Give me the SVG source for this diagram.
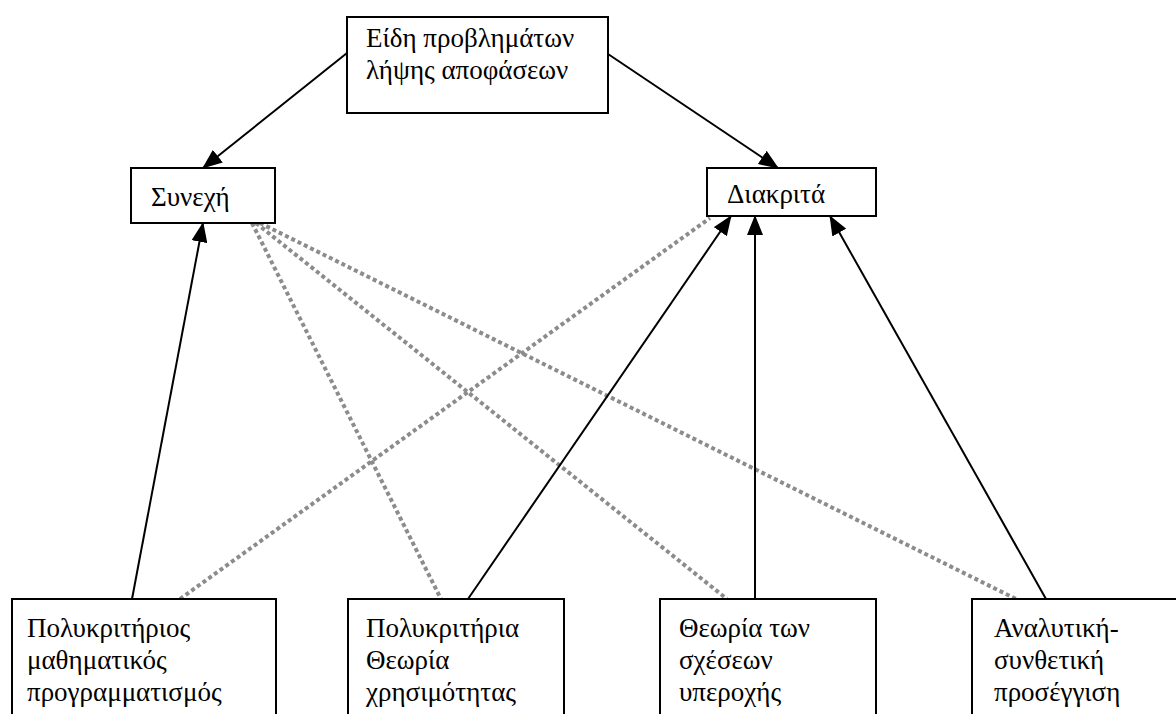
<svg xmlns="http://www.w3.org/2000/svg" width="1176" height="714" viewBox="0 0 1176 714">
<style>
.box{fill:#fff;stroke:#000;stroke-width:2}
.t{font-family:"Liberation Serif","Times New Roman","DejaVu Serif",serif;font-size:27px;fill:#000}
.solid{stroke:#000;stroke-width:2;fill:none}
.dot{stroke:#8c8c8c;stroke-width:4;stroke-dasharray:4 3;fill:none}
</style>
<defs>
<marker id="ah" markerUnits="userSpaceOnUse" markerWidth="20" markerHeight="16" refX="19" refY="8" orient="auto">
<path d="M0,0 L20,8 L0,16 z" fill="#000"/>
</marker>
</defs>
<rect width="1176" height="714" fill="#fff"/>
<g id="connectors">
<line class="dot" x1="180" y1="599" x2="710" y2="218"/>
<line class="dot" x1="252" y1="223" x2="441" y2="599"/>
<line class="dot" x1="256" y1="223" x2="727" y2="599"/>
<line class="dot" x1="260" y1="223" x2="1016" y2="599"/>
<line class="solid" x1="347" y1="53" x2="203" y2="168" marker-end="url(#ah)"/>
<line class="solid" x1="608" y1="54" x2="778" y2="168" marker-end="url(#ah)"/>
<line class="solid" x1="132" y1="599" x2="203" y2="223" marker-end="url(#ah)"/>
<line class="solid" x1="468" y1="599" x2="731" y2="216" marker-end="url(#ah)"/>
<line class="solid" x1="755" y1="599" x2="755" y2="216" marker-end="url(#ah)"/>
<line class="solid" x1="1046" y1="599" x2="830" y2="216" marker-end="url(#ah)"/>
</g>
<g id="top">
<rect class="box" x="347" y="17" width="261" height="96"/>
<text class="t" x="366" y="47">Είδη προβλημάτων</text>
<text class="t" x="366" y="79">λήψης αποφάσεων</text>
</g>
<g id="synechi">
<rect class="box" x="131" y="168" width="144" height="55"/>
<text class="t" x="151" y="206">Συνεχή</text>
</g>
<g id="diakrita">
<rect class="box" x="707" y="168" width="169" height="48"/>
<text class="t" x="727" y="203">Διακριτά</text>
</g>
<g id="b1">
<rect class="box" x="12" y="599" width="264" height="130"/>
<text class="t" x="27" y="637">Πολυκριτήριος</text>
<text class="t" x="27" y="669">μαθηματικός</text>
<text class="t" x="27" y="701">προγραμματισμός</text>
</g>
<g id="b2">
<rect class="box" x="348" y="599" width="216" height="130"/>
<text class="t" x="366" y="637">Πολυκριτήρια</text>
<text class="t" x="366" y="669">Θεωρία</text>
<text class="t" x="366" y="701">χρησιμότητας</text>
</g>
<g id="b3">
<rect class="box" x="660" y="599" width="216" height="130"/>
<text class="t" x="679" y="637">Θεωρία των</text>
<text class="t" x="679" y="669">σχέσεων</text>
<text class="t" x="679" y="701">υπεροχής</text>
</g>
<g id="b4">
<rect class="box" x="972" y="599" width="216" height="130"/>
<text class="t" x="994" y="637">Αναλυτική-</text>
<text class="t" x="994" y="669">συνθετική</text>
<text class="t" x="994" y="701">προσέγγιση</text>
</g>
</svg>
